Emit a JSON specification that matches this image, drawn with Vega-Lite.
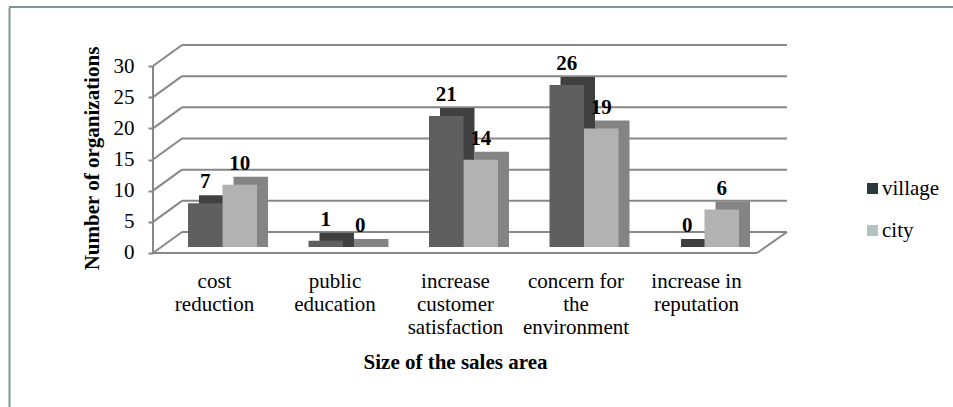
{
  "$schema": "https://vega.github.io/schema/vega-lite/v6.json",
  "width": 944,
  "height": 400,
  "autosize": {"type": "none"},
  "padding": {"left": 9, "top": 7, "right": 0, "bottom": 0},
  "background": "white",
  "config": {
    "view": {"stroke": null},
    "font": "Liberation Serif, serif",
    "axis": {"labelFont": "Liberation Serif, serif", "titleFont": "Liberation Serif, serif", "labelColor": "black", "titleColor": "black"},
    "legend": {"labelFont": "Liberation Serif, serif"}
  },
  "datasets": {
    "orgs": [
      {"category": "cost reduction", "village": 7, "city": 10},
      {"category": "public education", "village": 1, "city": 0},
      {"category": "increase customer satisfaction", "village": 21, "city": 14},
      {"category": "concern for the environment", "village": 26, "city": 19},
      {"category": "increase in reputation", "village": 0, "city": 6}
    ],
    "ticks": [{"v": 0}, {"v": 5}, {"v": 10}, {"v": 15}, {"v": 20}, {"v": 25}, {"v": 30}],
    "one": [{}],
    "series": [{"series": "village"}, {"series": "city"}]
  },
  "data": {"name": "orgs"},
  "resolve": {"axis": {"x": "independent", "y": "independent"}},
  "layer": [
    {
      "data": {"name": "one"},
      "mark": {"type": "rule", "color": "#7f9696", "strokeWidth": 2},
      "encoding": {
        "x": {"datum": "cost reduction", "type": "nominal", "axis": null,
          "scale": {"type": "band", "domain": ["cost reduction", "public education", "increase customer satisfaction", "concern for the environment", "increase in reputation"], "range": [179, 730], "paddingInner": 0.4274, "paddingOuter": 0}},
        "y": {"datum": 0, "type": "quantitative",
          "scale": {"domain": [-24.71, 39.47], "nice": false, "zero": false},
          "axis": {"orient": "left", "domain": true, "domainColor": "#7f9696", "domainWidth": 2, "labels": false, "ticks": false, "grid": false, "title": null}},
        "opacity": {"value": 0}
      }
    },
    {
      "data": {"name": "one"},
      "mark": {"type": "rule", "color": "#7f9696", "strokeWidth": 2},
      "encoding": {
        "y": {"datum": 39.47, "type": "quantitative", "axis": null}
      }
    },
    {
      "data": {"name": "ticks"},
      "mark": {"type": "rule", "color": "#878787", "strokeWidth": 2, "xOffset": -40.5, "x2Offset": 82.5, "yOffset": -21, "y2Offset": -21},
      "encoding": {
        "x": {"datum": "cost reduction", "type": "nominal", "axis": null},
        "x2": {"datum": "increase in reputation"},
        "y": {"field": "v", "type": "quantitative",
          "axis": {"orient": "left", "offset": -144, "values": [0, 5, 10, 15, 20, 25, 30], "domain": false, "grid": false, "ticks": true, "tickSize": 5, "tickWidth": 2, "tickColor": "#878787", "labelFont": "Liberation Serif, serif", "labelFontSize": 21, "labelPadding": 14, "labelOverlap": false, "title": "Number of organizations", "titleFontSize": 21, "titleFontWeight": "bold", "titlePadding": 11, "titleY": 151}},
        "y2": {"field": "v"}
      }
    },
    {
      "data": {"name": "ticks"},
      "mark": {"type": "rule", "color": "#878787", "strokeWidth": 2, "xOffset": -69.5, "x2Offset": -40.5, "y2Offset": -21},
      "encoding": {
        "x": {"datum": "cost reduction", "type": "nominal", "axis": null},
        "x2": {"datum": "cost reduction"},
        "y": {"field": "v", "type": "quantitative", "axis": null},
        "y2": {"field": "v"}
      }
    },
    {
      "data": {"name": "one"},
      "mark": {"type": "rule", "color": "#878787", "strokeWidth": 2, "xOffset": -69.5},
      "encoding": {
        "x": {"datum": "cost reduction", "type": "nominal", "axis": null},
        "y": {"datum": 0, "type": "quantitative", "axis": null},
        "y2": {"datum": 30}
      }
    },
    {
      "data": {"name": "one"},
      "mark": {"type": "rule", "color": "#878787", "strokeWidth": 2, "xOffset": -69.5, "x2Offset": 52.5},
      "encoding": {
        "x": {"datum": "cost reduction", "type": "nominal", "axis": null},
        "x2": {"datum": "increase in reputation"},
        "y": {"datum": 0, "type": "quantitative", "axis": null},
        "y2": {"datum": 0}
      }
    },
    {
      "data": {"name": "one"},
      "mark": {"type": "rule", "color": "#878787", "strokeWidth": 2, "xOffset": 52.5, "x2Offset": 82.5, "y2Offset": -21},
      "encoding": {
        "x": {"datum": "increase in reputation", "type": "nominal", "axis": null},
        "x2": {"datum": "increase in reputation"},
        "y": {"datum": 0, "type": "quantitative", "axis": null},
        "y2": {"datum": 0}
      }
    },
    {
      "mark": {"type": "bar", "color": "#404040", "width": {"band": 0.5}, "xOffset": -6.25, "yOffset": -14, "y2Offset": -6},
      "encoding": {
        "x": {"field": "category", "type": "nominal", "axis": null},
        "y": {"field": "village", "type": "quantitative", "axis": null},
        "y2": {"datum": 0}
      }
    },
    {
      "mark": {"type": "bar", "color": "#848484", "width": {"band": 0.5}, "xOffset": 28.25, "yOffset": -14, "y2Offset": -6},
      "encoding": {
        "x": {"field": "category", "type": "nominal", "axis": null},
        "y": {"field": "city", "type": "quantitative", "axis": null},
        "y2": {"datum": 0}
      }
    },
    {
      "mark": {"type": "bar", "color": "#5f5f5f", "width": {"band": 0.5}, "xOffset": -17.25, "yOffset": -6, "y2Offset": -6},
      "encoding": {
        "x": {"field": "category", "type": "nominal",
          "axis": {"orient": "bottom", "offset": -154, "domain": false, "ticks": false, "grid": false, "labelAngle": 0, "labelFont": "Liberation Serif, serif", "labelFontSize": 21, "labelLineHeight": 23, "labelPadding": 17, "labelOffset": -8, "labelOverlap": false,
            "labelExpr": "datum.value == 'cost reduction' ? ['cost', 'reduction'] : datum.value == 'public education' ? ['public', 'education'] : datum.value == 'increase customer satisfaction' ? ['increase', 'customer', 'satisfaction'] : datum.value == 'concern for the environment' ? ['concern for', 'the', 'environment'] : ['increase in', 'reputation']",
            "title": "Size of the sales area", "titleFontSize": 21, "titleFontWeight": "bold", "titleX": 446, "titleY": 115, "titleBaseline": "alphabetic", "titleAlign": "center"}},
        "y": {"field": "village", "type": "quantitative", "axis": null},
        "y2": {"datum": 0}
      }
    },
    {
      "mark": {"type": "bar", "color": "#b2b2b2", "width": {"band": 0.5}, "xOffset": 17.25, "yOffset": -6, "y2Offset": -6},
      "encoding": {
        "x": {"field": "category", "type": "nominal", "axis": null},
        "y": {"field": "city", "type": "quantitative", "axis": null},
        "y2": {"datum": 0}
      }
    },
    {
      "mark": {"type": "text", "font": "Liberation Serif, serif", "fontSize": 21, "fontWeight": "bold", "color": "black", "baseline": "alphabetic", "xOffset": -17.25, "yOffset": -21},
      "encoding": {
        "x": {"field": "category", "type": "nominal", "axis": null},
        "y": {"field": "village", "type": "quantitative", "axis": null},
        "text": {"field": "village"}
      }
    },
    {
      "mark": {"type": "text", "font": "Liberation Serif, serif", "fontSize": 21, "fontWeight": "bold", "color": "black", "baseline": "alphabetic", "xOffset": 17.25, "yOffset": -21},
      "encoding": {
        "x": {"field": "category", "type": "nominal", "axis": null},
        "y": {"field": "city", "type": "quantitative", "axis": null},
        "text": {"field": "city"}
      }
    },
    {
      "data": {"name": "series"},
      "mark": {"type": "square", "opacity": 0},
      "encoding": {
        "color": {"field": "series", "type": "nominal",
          "scale": {"domain": ["village", "city"], "range": ["#293b3d", "#b3c3c3"]},
          "legend": {"orient": "none", "legendX": 853, "legendY": 171, "title": null, "symbolType": "square", "symbolSize": 121, "symbolOpacity": 1, "symbolStrokeWidth": 0, "labelFont": "Liberation Serif, serif", "labelFontSize": 21, "labelColor": "black", "rowPadding": 20, "labelOffset": -1, "padding": 0}}
      }
    }
  ]
}
